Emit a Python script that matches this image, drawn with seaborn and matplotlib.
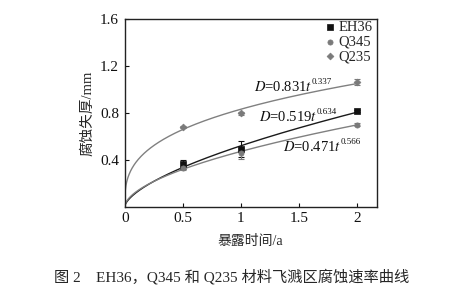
import numpy as np
import pandas as pd
import matplotlib
matplotlib.use("Agg")
import matplotlib.pyplot as plt
import seaborn as sns

sns.set_theme(style="ticks")
plt.rcParams['font.family'] = ['Liberation Serif', 'Noto Sans CJK SC', 'DejaVu Sans']
plt.rcParams['mathtext.fontset'] = 'stix'

series = ["EH36", "Q345", "Q235"]
times = [0.5, 1, 2]
eh36 = [0.36, 0.49, 0.815]
eh36_err = [0.04, 0.07, 0.01]
q345 = [0.327, 0.455, 0.70]
q345_err = [0.015, 0.045, 0.01]
q235 = [0.68, 0.795, 1.065]
q235_err = [0.01, 0.01, 0.025]
fit_a = [0.519, 0.471, 0.831]
fit_b = [0.634, 0.566, 0.337]
fit_main = [r"$D$=0.519$t$", r"$D$=0.471$t$", r"$D$=0.831$t$"]
fit_sup = ["0.634", "0.566", "0.337"]
x_ticks = [0, 0.5, 1, 1.5, 2]
x_ticklabels = ["0", "0.5", "1", "1.5", "2"]
y_ticks = [0.4, 0.8, 1.2, 1.6]
y_ticklabels = ["0.4", "0.8", "1.2", "1.6"]

colors = ["#111111", "#7a7a7a", "#7a7a7a"]
line_colors = ["#1a1a1a", "#808080", "#808080"]
markers = ["s", "o", "D"]

fig = plt.figure(figsize=(4.61, 3.03), dpi=100)
ax = fig.add_axes([0.2705, 0.318, 0.5465, 0.619])

vals = [eh36, q345, q235]
errs = [eh36_err, q345_err, q235_err]

tt = np.linspace(0.0005, 2, 600)
for i, name in enumerate(series):
    curve = pd.DataFrame({"t": tt, "D": fit_a[i] * tt ** fit_b[i]})
    sns.lineplot(data=curve, x="t", y="D", ax=ax, color=line_colors[i], lw=1.0, legend=False)

for i, name in enumerate(series):
    ax.errorbar(times, vals[i], yerr=errs[i], fmt="none", ecolor=colors[i], elinewidth=0.8, capsize=2.5, capthick=0.8)
    df = pd.DataFrame({"t": times, "D": vals[i]})
    sns.scatterplot(data=df, x="t", y="D", ax=ax, marker=markers[i], color=colors[i],
                    s=14 if markers[i] != "D" else 12, edgecolor=colors[i], linewidth=0.5, label=name, zorder=5)

ax.set_xlim(0, 2.17)
ax.set_ylim(0, 1.6)
ax.set_xticks(x_ticks)
ax.set_xticklabels(x_ticklabels)
ax.set_yticks(y_ticks)
ax.set_yticklabels(y_ticklabels)
ax.tick_params(direction="in", length=3, width=0.8, labelsize=11, colors="#111111", pad=4)
for s in ax.spines.values():
    s.set_linewidth(1.0)
    s.set_color("#222222")
ax.set_xlabel("暴露时间/a", fontsize=10, labelpad=7)
ax.set_ylabel("腐蚀失厚/mm", fontsize=10.5, labelpad=4)

leg = ax.legend(loc="upper right", frameon=False, fontsize=10.5, handletextpad=0.2,
                borderaxespad=0.0, borderpad=0.1, labelspacing=0.1, handlelength=0.8,
                bbox_to_anchor=(0.99, 1.0))

label_pos = [(1.158, 0.763), (1.365, 0.508), (1.115, 1.02)]
for i in range(3):
    t = ax.text(label_pos[i][0], label_pos[i][1], fit_main[i], fontsize=10.5, color="#111111", va="center")
    ax.annotate(fit_sup[i], xy=(0.985, 0.58), xycoords=t, fontsize=6.5, color="#111111",
                ha="left", va="bottom")

fig.text(0.503, 0.088, "图 2　EH36，Q345 和 Q235 材料飞溅区腐蚀速率曲线", ha="center", va="center",
         fontsize=11, family=['Liberation Serif', 'Noto Sans CJK SC'])

fig.savefig("out.png", dpi=100, facecolor="white")
